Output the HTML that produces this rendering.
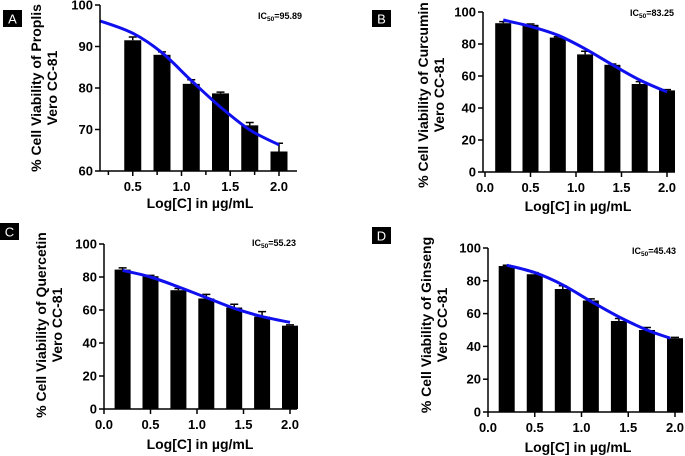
<!DOCTYPE html>
<html><head><meta charset="utf-8"><style>
body{margin:0;background:#fff}
svg{display:block;font-family:"Liberation Sans",Arial,sans-serif}
</style></head><body>
<svg id="fig" width="685" height="456" viewBox="0 0 685 456"></svg>
<script>
// Panel data (log concentrations, mean viability, error, fitted curve readings)
const panelLabels = ["A","B","C","D"];
const drugNames = ["Proplis","Curcumin","Quercetin","Ginseng"];
const ic50Values = ["95.89","83.25","55.23","45.43"];
const xA = [0.5,0.8,1.1,1.4,1.7,2.0];
const meanA = [91.5,88,81,78.7,71,64.7];
const errA = [0.8,0.7,1,0.3,0.7,2];
const curveXA = [0.16,0.5,0.8,1.1,1.4,1.7,2.0];
const curveYA = [96.2,93.2,88.5,81.8,75.4,69.9,66.3];
const xB = [0.2,0.5,0.8,1.1,1.4,1.7,2.0];
const meanB = [93,92,84,73.5,67,55,51];
const errB = [1,0.5,0.5,2,0.5,1.5,0.5];
const curveXB = [0.2,0.5,0.8,1.1,1.4,1.7,2.0];
const curveYB = [95,91,85.5,77,67,57.5,50];
const xC = [0.2,0.5,0.8,1.1,1.4,1.7,2.0];
const meanC = [84.5,80.5,72,67,61.5,56,50.5];
const errC = [1,0.5,1,2.5,2,3,0.5];
const curveXC = [0.2,0.5,0.8,1.1,1.4,1.7,2.0];
const curveYC = [84,80,74,67.5,61,56,52.5];
const xD = [0.2,0.5,0.8,1.1,1.4,1.7,2.0];
const meanD = [89,84,75,68,55.5,50,45];
const errD = [0.5,1,2,1,1.5,1.5,0.5];
const curveXD = [0.2,0.5,0.8,1.1,1.4,1.7,1.95];
const curveYD = [89.5,85,77.5,67.5,58,50,45];
const yTicksA = [60,70,80,90,100];
const yTicksB = [0,20,40,60,80,100];
const xTicksA = [0.5,1.0,1.5,2.0];
const xTicksB = [0.0,0.5,1.0,1.5,2.0];

const NS="http://www.w3.org/2000/svg";
const svg=document.getElementById('fig');
function mk(tag,attrs,parent){const e=document.createElementNS(NS,tag);for(const k in attrs)e.setAttribute(k,attrs[k]);(parent||svg).appendChild(e);return e;}

const layouts=[
 {ax:100,ax2:297,y0:171,y1:5,ymin:60,ymax:100,x0px:84,xs:97.5,box:[3,10],lab:[45,88],xt:[200,208],ic:[280,19],xa:xA,m:meanA,e:errA,cx:curveXA,cy:curveYA,yt:yTicksA,xt2:xTicksA,bw:17},
 {ax:483,ax2:675,y0:172,y1:12,ymin:0,ymax:100,x0px:485,xs:91,box:[372,10],lab:[432,95],xt:[578,211],ic:[652,16],xa:xB,m:meanB,e:errB,cx:curveXB,cy:curveYB,yt:yTicksB,xt2:xTicksB,bw:16},
 {ax:104,ax2:297,y0:409,y1:244,ymin:0,ymax:100,x0px:104,xs:93,box:[0,223],lab:[50,325],xt:[200,449],ic:[274,246],xa:xC,m:meanC,e:errC,cx:curveXC,cy:curveYC,yt:yTicksB,xt2:xTicksB,bw:16},
 {ax:488,ax2:683,y0:412,y1:248,ymin:0,ymax:100,x0px:488,xs:93.5,box:[372,227],lab:[435,325],xt:[578,452],ic:[654,254],xa:xD,m:meanD,e:errD,cx:curveXD,cy:curveYD,yt:yTicksB,xt2:xTicksB,bw:16}
];

layouts.forEach((L,i)=>{
 const g=mk('g',{});
 
 
 const X=v=>L.x0px+v*L.xs;
 const Y=v=>L.y0-(v-L.ymin)/(L.ymax-L.ymin)*(L.y0-L.y1);
 const b=mk('rect',{x:L.box[0],y:L.box[1],width:19,height:17,fill:'#000'},g);
 
 
 const bt=mk('text',{x:L.box[0]+9.5,y:L.box[1]+13.5,'text-anchor':'middle',fill:'#fff','font-size':13},g);
 bt.textContent=panelLabels[i];
 
 
 L.xa.forEach((xv,j)=>{
  const cx=X(xv),top=Y(L.m[j]),et=Y(L.m[j]+L.e[j]);
  const r=mk('rect',{x:cx-L.bw/2,y:top,width:L.bw,height:L.y0-top,fill:'#000'},g);
  
  
  const eb=mk('path',{d:`M${cx} ${top}V${et}M${cx-4} ${et}H${cx+4}`,stroke:'#000','stroke-width':1.5,fill:'none'},g);
  
  
 });
 const P=L.cx.map((v,k)=>[X(v),Y(L.cy[k])]);
 let d=`M${P[0][0]} ${P[0][1]}`;
 for(let k=0;k<P.length-1;k++){const p0=P[Math.max(0,k-1)],p1=P[k],p2=P[k+1],p3=P[Math.min(P.length-1,k+2)];
  d+=`C${p1[0]+(p2[0]-p0[0])/6} ${p1[1]+(p2[1]-p0[1])/6},${p2[0]-(p3[0]-p1[0])/6} ${p2[1]-(p3[1]-p1[1])/6},${p2[0]} ${p2[1]}`;}
 const c=mk('path',{d,stroke:'#1010ee','stroke-width':3,fill:'none'},g);
 
 
 const ya=mk('path',{d:`M${L.ax} ${L.y1}V${L.y0}`,stroke:'#000','stroke-width':1.5},g);
 
 
 const xa=mk('path',{d:`M${L.ax} ${L.y0}H${L.ax2}`,stroke:'#000','stroke-width':1.5},g);
 
 
 L.yt.forEach(t=>{
  mk('path',{d:`M${L.ax-5} ${Y(t)}H${L.ax}`,stroke:'#000','stroke-width':1.5},g);
  const tl=mk('text',{x:L.ax-7,y:Y(t)+4.5,'text-anchor':'end','font-size':13,'font-weight':'bold'},g);
  tl.textContent=t;
  
  
 });
 L.xt2.forEach(t=>{
  mk('path',{d:`M${X(t)} ${L.y0}V${L.y0+5}`,stroke:'#000','stroke-width':1.5},g);
  const tl=mk('text',{x:X(t),y:L.y0+20,'text-anchor':'middle','font-size':13,'font-weight':'bold'},g);
  tl.textContent=t.toFixed(1);
  
  
 });
 if(i===0){[0.25,0.75,1.25,1.75].forEach(t=>mk('path',{d:`M${X(t)} ${L.y0}V${L.y0+4}`,stroke:'#000','stroke-width':1.5},g));}
 const yt=mk('text',{transform:`translate(${L.lab[0]},${L.lab[1]}) rotate(-90)`,'text-anchor':'middle','font-size':14,'font-weight':'bold'},g);
 
 
 const t1=mk('tspan',{x:0,dy:-4},yt);t1.textContent='% Cell Viability of '+drugNames[i];
 const t2=mk('tspan',{x:0,dy:16},yt);t2.textContent='Vero CC-81';
 const xtt=mk('text',{x:L.xt[0],y:L.xt[1],'text-anchor':'middle','font-size':14,'font-weight':'bold'},g);
 xtt.textContent='Log[C] in µg/mL';
 
 
 const ic=mk('text',{x:L.ic[0],y:L.ic[1],'text-anchor':'middle','font-size':9,'font-weight':'bold'},g);
 
 
 const a=mk('tspan',{},ic);a.textContent='IC';
 const s=mk('tspan',{'font-size':6.5,dy:2},ic);s.textContent='50';
 const r=mk('tspan',{dy:-2},ic);r.textContent='='+ic50Values[i];
});
</script>
</body></html>
